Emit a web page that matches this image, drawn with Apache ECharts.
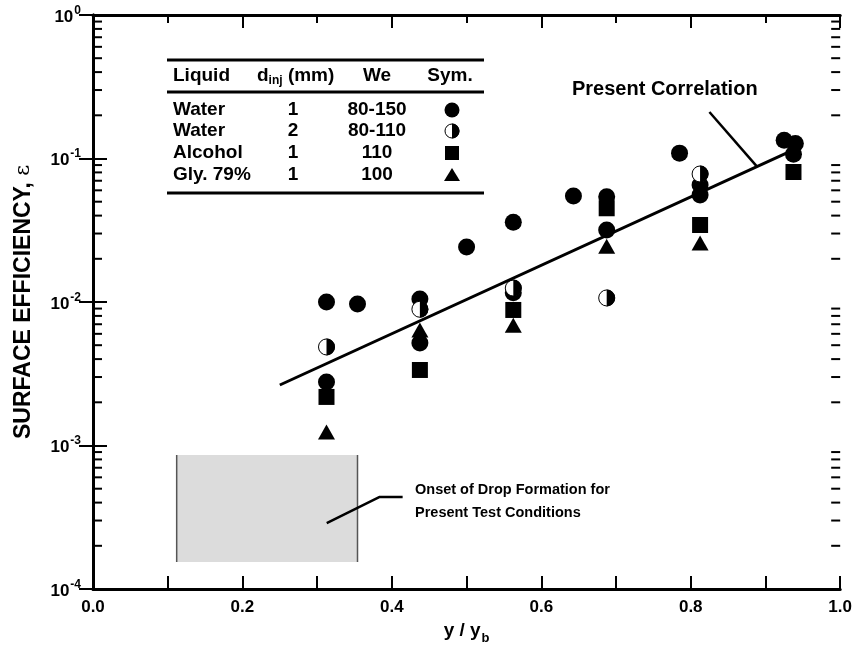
<!DOCTYPE html>
<html><head><meta charset="utf-8">
<script src="https://cdn.jsdelivr.net/npm/echarts@6/dist/echarts.min.js"></script>
<style>html,body{margin:0;padding:0;background:#fff}#c{width:855px;height:650px}</style>
</head><body><div id="c"></div>
<script>
// ---- data (y / y_b, surface efficiency) ----
const water1 = [[0.3125,0.0100],[0.3125,0.00277],[0.354,0.0097],[0.4375,0.0105],[0.4375,0.00518],[0.5,0.0242],[0.5625,0.036],[0.5625,0.0116],[0.643,0.0548],[0.6875,0.0542],[0.6875,0.0318],[0.785,0.109],[0.8125,0.0654],[0.8125,0.0557],[0.925,0.134],[0.94,0.127],[0.9375,0.107]];
const water2 = [[0.3125,0.00486],[0.4375,0.0089],[0.5625,0.0125],[0.6875,0.01067],[0.8125,0.078]];
const alcohol = [[0.3125,0.00218],[0.4375,0.00336],[0.5625,0.0088],[0.6875,0.045],[0.8125,0.0344],[0.9375,0.0805]];
const glycerol = [[0.3125,0.00124],[0.4375,0.00638],[0.5625,0.0069],[0.6875,0.0245],[0.8125,0.0258]];
const correlation = [[0.25,0.00264],[0.928,0.109]];
const corrLeader = [[0.825,0.211],[0.889,0.0875]];
const onsetBoxX = [0.112,0.354];
const onsetBoxY = [0.000154,0.000859];
const onsetLeader = [[0.3128,0.000288],[0.3837,0.000438],[0.4144,0.000438]];
const yMinorTicks = [];
[1e-4,1e-3,1e-2,1e-1].forEach(d=>{for(let k=2;k<=9;k++) yMinorTicks.push(d*k);});
const xTickLabels = ['0.0','0.2','0.4','0.6','0.8','1.0'];
const tableLiquid = ['Water','Water','Alcohol','Gly. 79%'];
const tableDinj = ['1','2','1','1'];
const tableWe = ['80-150','80-110','110','100'];

const FONT = '"Liberation Sans", Arial, sans-serif';
const chart = echarts.init(document.getElementById('c'));

const axisLine = {show:true, lineStyle:{color:'#000', width:3}};
const halfDisc = 'path://M0,0 A10,10 0 0 1 0,20 Z';

function yLabel(v){ const e = Math.round(Math.log10(v)); return '{b|10}{s|' + e + '}'; }

// table graphics
const g = [];
const tl = 167, tr = 484;
[60,92,193].forEach(y=>g.push({type:'line', shape:{x1:tl,y1:y,x2:tr,y2:y}, style:{stroke:'#000', lineWidth:3}}));
const TF = 'bold 19px '+FONT;
const tStyle = (txt,x,y,align)=>({type:'text', x:x, y:y, style:{text:txt, font:TF, fill:'#000', textAlign:align||'left', textVerticalAlign:'middle'}});
g.push(tStyle('Liquid',173,76));
g.push({type:'text', x:257, y:76, style:{rich:{a:{font:TF, fill:'#000'}, s:{font:'bold 12px '+FONT, fill:'#000', padding:[10,0,0,0]}}, text:'{a|d}{s|inj}{a| (mm)}', textVerticalAlign:'middle', fill:'#000'}});
g.push(tStyle('We',377,76,'center'));
g.push(tStyle('Sym.',450,76,'center'));
const rowY = [110,131,153,175];
rowY.forEach((y,i)=>{
  g.push(tStyle(tableLiquid[i],173,y));
  g.push(tStyle(tableDinj[i],293,y,'center'));
  g.push(tStyle(tableWe[i],377,y,'center'));
});
const sx = 452;
g.push({type:'circle', shape:{cx:sx, cy:rowY[0], r:7.5}, style:{fill:'#000'}});
g.push({type:'circle', shape:{cx:sx, cy:rowY[1], r:7}, style:{fill:'#fff', stroke:'#000', lineWidth:1}});
g.push({type:'sector', shape:{cx:sx, cy:rowY[1], r:7.5, r0:0, startAngle:-Math.PI/2, endAngle:Math.PI/2}, style:{fill:'#000'}});
g.push({type:'rect', shape:{x:sx-7, y:rowY[2]-7, width:14, height:14}, style:{fill:'#000'}});
g.push({type:'polygon', shape:{points:[[sx,rowY[3]-7],[sx+8,rowY[3]+6],[sx-8,rowY[3]+6]]}, style:{fill:'#000'}});
// annotation texts
g.push({type:'text', x:572, y:89, style:{text:'Present Correlation', font:'bold 20px '+FONT, fill:'#000', textVerticalAlign:'middle'}});
g.push({type:'text', x:415, y:490, style:{text:'Onset of Drop Formation for', font:'bold 14.5px '+FONT, fill:'#000', textVerticalAlign:'middle'}});
g.push({type:'text', x:415, y:513, style:{text:'Present Test Conditions', font:'bold 14.5px '+FONT, fill:'#000', textVerticalAlign:'middle'}});

const option = {
  animation:false,
  backgroundColor:'#fff',
  textStyle:{fontFamily:FONT},
  grid:{left:93, right:14, top:15, bottom:61},
  xAxis:[{
    type:'value', min:0, max:1, interval:0.2, position:'bottom',
    axisLine:axisLine,
    axisTick:{show:true, inside:true, length:13, lineStyle:{color:'#000', width:2}},
    minorTick:{show:true, splitNumber:2, length:13, lineStyle:{color:'#000', width:2}},
    splitLine:{show:false}, minorSplitLine:{show:false},
    axisLabel:{color:'#000', fontSize:17, fontWeight:'bold', margin:10, fontFamily:FONT,
      formatter:(v)=>xTickLabels[Math.round(v*5)]},
    name:'{n|y / y}{s|b}', nameLocation:'middle', nameGap:32,
    nameTextStyle:{rich:{n:{fontSize:19, fontWeight:'bold', color:'#000', fontFamily:FONT, verticalAlign:'bottom'}, s:{fontSize:13, fontWeight:'bold', color:'#000', fontFamily:FONT, verticalAlign:'bottom', padding:[0,0,-5,1]}}}
  },{
    type:'value', min:0, max:1, interval:0.2, position:'top',
    axisLine:axisLine,
    axisTick:{show:true, inside:true, length:13, lineStyle:{color:'#000', width:2}},
    minorTick:{show:true, splitNumber:2, length:8, lineStyle:{color:'#000', width:2}},
    splitLine:{show:false}, axisLabel:{show:false}
  }],
  yAxis:[{
    type:'log', logBase:10, min:1e-4, max:1, interval:1, position:'left',
    axisLine:axisLine,
    axisTick:{show:true, inside:true, length:14, lineStyle:{color:'#000', width:2}},
    splitLine:{show:false},
    axisLabel:{margin:12, formatter:yLabel, rich:{
      b:{fontSize:17, fontWeight:'bold', color:'#000', fontFamily:FONT, verticalAlign:'bottom'},
      s:{fontSize:12, fontWeight:'bold', color:'#000', fontFamily:FONT, verticalAlign:'bottom', padding:[0,0,9,1]}}},
    name:'{t|SURFACE EFFICIENCY, }{e|ε}', nameLocation:'middle', nameGap:58, nameRotate:90,
    nameTextStyle:{rich:{t:{fontSize:23, fontWeight:'bold', color:'#000', fontFamily:FONT}, e:{fontSize:21, color:'#000', fontFamily:'"DejaVu Serif", serif'}}}
  },{
    type:'log', logBase:10, min:1e-4, max:1, interval:1, position:'right',
    axisLine:axisLine,
    axisTick:{show:true, inside:true, length:14, lineStyle:{color:'#000', width:2}},
    splitLine:{show:false}, axisLabel:{show:false}
  }],
  graphic:g,
  series:[
    { // log minor ticks (2..9 per decade) on both y axes
      type:'custom', xAxisIndex:0, yAxisIndex:0, silent:true, clip:false, z:5,
      data:yMinorTicks.map(v=>[0,v]),
      renderItem:(params,api)=>{
        const pl = api.coord([0, api.value(1)]);
        const pr = api.coord([1, api.value(1)]);
        return {type:'group', children:[
          {type:'line', shape:{x1:pl[0], y1:pl[1], x2:pl[0]+9, y2:pl[1]}, style:{stroke:'#000', lineWidth:2}},
          {type:'line', shape:{x1:pr[0]-9, y1:pr[1], x2:pr[0], y2:pr[1]}, style:{stroke:'#000', lineWidth:2}}
        ]};
      }
    },
    { // onset region box
      type:'line', data:[], silent:true,
      markArea:{silent:true, itemStyle:{color:'#dcdcdc', opacity:1}, data:[[{coord:[onsetBoxX[0],onsetBoxY[0]]},{coord:[onsetBoxX[1],onsetBoxY[1]]}]]}
    },
    {type:'line', data:[[onsetBoxX[0],onsetBoxY[0]],[onsetBoxX[0],onsetBoxY[1]]], symbol:'none', lineStyle:{color:'#555', width:1.5}, silent:true},
    {type:'line', data:[[onsetBoxX[1],onsetBoxY[0]],[onsetBoxX[1],onsetBoxY[1]]], symbol:'none', lineStyle:{color:'#555', width:1.5}, silent:true},
    {type:'line', data:onsetLeader, symbol:'none', lineStyle:{color:'#000', width:2.5}, silent:true, z:6},
    {type:'line', data:corrLeader, symbol:'none', lineStyle:{color:'#000', width:2.5}, silent:true},
    {type:'scatter', name:'Water 1', data:water1, symbol:'circle', symbolSize:17, itemStyle:{color:'#000', opacity:1}, z:3},
    {type:'scatter', name:'Water 2', data:water2, symbol:'circle', symbolSize:16, itemStyle:{color:'#fff', borderColor:'#000', borderWidth:1, opacity:1}, z:3},
    {type:'scatter', name:'Water 2 half', data:water2, symbol:halfDisc, symbolKeepAspect:false, symbolSize:[8.5,17], symbolOffset:['50%',0], itemStyle:{color:'#000', opacity:1}, z:4},
    {type:'scatter', name:'Alcohol', data:alcohol, symbol:'rect', symbolSize:16, itemStyle:{color:'#000', opacity:1}, z:3},
    {type:'scatter', name:'Glycerol', data:glycerol, symbol:'triangle', symbolSize:[17,15], itemStyle:{color:'#000', opacity:1}, z:3},
    {type:'line', name:'Present Correlation', data:correlation, symbol:'none', lineStyle:{color:'#000', width:3}, z:5, silent:true}
  ]
};
chart.setOption(option);
</script>
</body></html>
